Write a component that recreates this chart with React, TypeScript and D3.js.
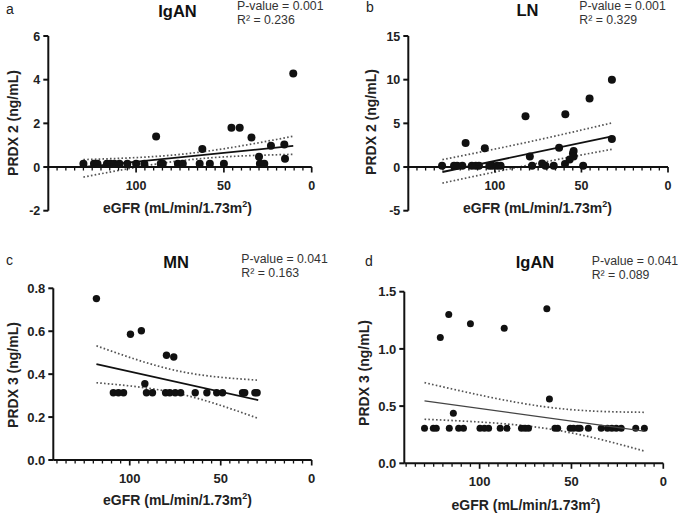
import React from "react";
import * as d3 from "d3";

// ---------- DATA ----------
// Panel a: IgAN, PRDX 2
const aX = [130, 124, 122, 116.6, 114.7, 112.4, 109.5, 105, 100, 95.3, 86, 84.8, 76.2, 73.4, 63.8, 58, 50, 29.5, 27, 88.6, 45.7, 41, 34.3, 62.3, 23.2, 15.6, 15.2, 30, 10.5];
const aY = [0.15, 0.15, 0.15, 0.15, 0.15, 0.15, 0.15, 0.15, 0.15, 0.15, 0.15, 0.15, 0.15, 0.15, 0.15, 0.15, 0.15, 0.15, 0.15, 1.4, 1.8, 1.8, 1.35, 0.83, 0.97, 1.03, 0.38, 0.47, 4.28];
const aFit = [[130.5, 0.0], [10.5, 0.97]];
const aUpper = [[130, 0.34], [70, 0.62], [10.5, 1.41]];
const aLower = [[130, -0.46], [70, 0.33], [10.5, 0.58]];

// Panel b: LN, PRDX 2
const bX = [130.5, 123.6, 121.8, 118.8, 113.3, 111, 109.2, 103.2, 101.5, 98.6, 96.7, 78.5, 70.8, 66, 49, 72.7, 59.5, 56.8, 54.9, 54.5, 54.5, 32.4, 45.3, 82.3, 59.3, 116.9, 105.8, 32.4, 62.9, 79.8];
const bY = [0.15, 0.15, 0.15, 0.15, 0.15, 0.15, 0.15, 0.15, 0.15, 0.15, 0.15, 0.15, 0.15, 0.15, 0.15, 0.39, 0.35, 0.85, 1.54, 1.84, 1.2, 10, 7.85, 5.82, 6.05, 2.76, 2.15, 3.2, 2.2, 1.2];
const bFit = [[130.3, -0.57], [32.4, 3.52]];
const bUpper = [[130.3, 0.85], [81, 2.85], [32.4, 5.05]];
const bLower = [[130.3, -1.84], [81, 0.2], [32.4, 2.03]];

// Panel c: MN, PRDX 3
const cX = [109, 106.2, 103.4, 90.8, 87.5, 80.3, 78, 75, 72, 64, 57.6, 52.2, 49, 38, 36.8, 31.2, 30, 118.3, 99.6, 93.6, 79.8, 75.8, 91.7];
const cY = [0.313, 0.313, 0.313, 0.313, 0.313, 0.313, 0.313, 0.313, 0.313, 0.313, 0.313, 0.313, 0.313, 0.313, 0.313, 0.313, 0.313, 0.752, 0.586, 0.602, 0.488, 0.48, 0.355];
const cFit = [[118.3, 0.447], [29.4, 0.279]];
const cUpper = [[118.3, 0.532], [73.5, 0.415], [29.4, 0.372]];
const cLower = [[118.3, 0.36], [73.5, 0.31], [29.4, 0.194]];

// Panel d: IgAN, PRDX 3
const dX = [130, 125.2, 123.6, 116.5, 111.4, 108.8, 99.8, 97.4, 95.1, 88.8, 85.1, 77.2, 75.2, 73.4, 59, 57.5, 50.7, 48.9, 46.5, 45.3, 40.8, 33.8, 30.4, 28, 25.6, 22.9, 15, 10.3, 121.4, 116.8, 105, 86.6, 63.4, 62, 114.3];
const dY = [0.306, 0.306, 0.306, 0.306, 0.306, 0.306, 0.306, 0.306, 0.306, 0.306, 0.306, 0.306, 0.306, 0.306, 0.306, 0.306, 0.306, 0.306, 0.306, 0.306, 0.306, 0.306, 0.306, 0.306, 0.306, 0.306, 0.306, 0.306, 1.10, 1.30, 1.22, 1.18, 1.35, 0.562, 0.437];
const dFit = [[130, 0.545], [10.5, 0.282]];
const dUpper = [[130, 0.705], [65, 0.495], [10.5, 0.446]];
const dLower = [[130, 0.385], [65, 0.307], [10.5, 0.108]];

const xMajorTicks = [100, 50, 0];
const aYTicks = [-2, 0, 2, 4, 6];
const bYTicks = [-5, 0, 5, 10, 15];
const cYTicks = [0, 0.2, 0.4, 0.6, 0.8];
const dYTicks = [0, 0.5, 1.0, 1.5];

const FONT = "Arial, 'Liberation Sans', Helvetica, sans-serif";

type PanelProps = {
  letter: string;
  title: string;
  pval: string;
  r2: string;
  ylabel: string;
  xs: number[];
  ys: number[];
  fit: number[][];
  upper: number[][];
  lower: number[][];
  xDomain: [number, number];
  xRange: [number, number];
  yDomain: [number, number];
  yRange: [number, number];
  yTicks: number[];
  yFmt: (v: number) => string;
  r: number;
  fitStroke: string;
  fitWidth: number;
  letterPos: [number, number];
  titlePos: [number, number];
  statPos: [number, number];
  ylabelPos: [number, number];
  xlabelPos: [number, number];
  tickFont: number;
};

function Panel(p: PanelProps) {
  const x = d3.scaleLinear().domain(p.xDomain).range(p.xRange);
  const y = d3.scaleLinear().domain(p.yDomain).range(p.yRange);
  const axisY = y(Math.max(0, p.yDomain[0]));
  const minor = d3.range(0, p.xDomain[0] + 0.001, 5).filter((v) => xMajorTicks.indexOf(v) < 0);
  const line = d3.line<number[]>().x((d) => x(d[0])).y((d) => y(d[1]));
  const curve = d3.line<number[]>().x((d) => x(d[0])).y((d) => y(d[1])).curve(d3.curveNatural);
  const ax = p.xRange[0];
  return (
    <g fontFamily={FONT}>
      <text x={p.letterPos[0]} y={p.letterPos[1]} fontSize={14} fill="#222">{p.letter}</text>
      <text x={p.titlePos[0]} y={p.titlePos[1]} fontSize={16.5} fontWeight="bold" textAnchor="middle" fill="#111">{p.title}</text>
      <text x={p.statPos[0]} y={p.statPos[1]} fontSize={12.3} fill="#333">{p.pval}</text>
      <text x={p.statPos[0]} y={p.statPos[1] + 14} fontSize={12.3} fill="#333">{p.r2}</text>

      {/* confidence bands */}
      <path d={curve(p.upper) || ""} fill="none" stroke="#555" strokeWidth={1.7} strokeDasharray="1.6 2.2" />
      <path d={curve(p.lower) || ""} fill="none" stroke="#555" strokeWidth={1.7} strokeDasharray="1.6 2.2" />

      {/* points */}
      {p.xs.map((v, i) => (
        <circle key={i} cx={x(v)} cy={y(p.ys[i])} r={p.r} fill="#111" />
      ))}

      {/* fit line */}
      <path d={line(p.fit) || ""} fill="none" stroke={p.fitStroke} strokeWidth={p.fitWidth} />

      {/* y axis */}
      <line x1={ax} x2={ax} y1={p.yRange[0]} y2={p.yRange[1]} stroke="#111" strokeWidth={2} />
      {p.yTicks.map((t) => (
        <g key={t}>
          <line x1={ax - 5} x2={ax} y1={y(t)} y2={y(t)} stroke="#111" strokeWidth={2} />
          <text x={ax - 8} y={y(t)} dy="0.36em" textAnchor="end" fontSize={p.tickFont} fontWeight="bold" fill="#222">{p.yFmt(t)}</text>
        </g>
      ))}

      {/* x axis */}
      <line x1={p.xRange[0]} x2={p.xRange[1]} y1={axisY} y2={axisY} stroke="#111" strokeWidth={2} />
      {minor.map((t) => (
        <line key={"m" + t} x1={x(t)} x2={x(t)} y1={axisY} y2={axisY + 3.5} stroke="#111" strokeWidth={1.3} />
      ))}
      {xMajorTicks.map((t) => (
        <g key={"M" + t}>
          <line x1={x(t)} x2={x(t)} y1={axisY} y2={axisY + 5.5} stroke="#111" strokeWidth={1.7} />
          <text x={x(t)} y={axisY + 23} textAnchor="middle" fontSize={p.tickFont} fontWeight="bold" fill="#222">{t}</text>
        </g>
      ))}

      {/* axis labels */}
      <text transform={`translate(${p.ylabelPos[0]},${p.ylabelPos[1]}) rotate(-90)`} textAnchor="middle" fontSize={14} fontWeight="bold" fill="#222">{p.ylabel}</text>
      <text x={p.xlabelPos[0]} y={p.xlabelPos[1]} textAnchor="middle" fontSize={14} fontWeight="bold" fill="#222">
        eGFR (mL/min/1.73m<tspan fontSize={9} dy={-6}>2</tspan><tspan dy={6}>)</tspan>
      </text>
    </g>
  );
}

export default function App() {
  const f1 = (v: number) => d3.format(".1f")(v);
  const f0 = (v: number) => String(v);
  return (
    <svg width={685} height={514} style={{ position: "absolute", left: 0, top: 0, background: "#fff" }}>
      <rect width={685} height={514} fill="#fff" />
      <Panel letter="a" title="IgAN" pval="P-value = 0.001" r2="R² = 0.236" ylabel="PRDX 2 (ng/mL)"
        xs={aX} ys={aY} fit={aFit} upper={aUpper} lower={aLower}
        xDomain={[150, 0]} xRange={[48.3, 311.7]} yDomain={[-2, 6]} yRange={[210.7, 36]} yTicks={aYTicks} yFmt={f0}
        r={4} fitStroke="#111" fitWidth={1.8}
        letterPos={[6, 14]} titlePos={[177.5, 17]} statPos={[237, 10]} ylabelPos={[18, 123]} xlabelPos={[177.5, 213]} tickFont={12.5} />
      <Panel letter="b" title="LN" pval="P-value = 0.001" r2="R² = 0.329" ylabel="PRDX 2 (ng/mL)"
        xs={bX} ys={bY} fit={bFit} upper={bUpper} lower={bLower}
        xDomain={[150, 0]} xRange={[408.3, 668]} yDomain={[-5, 15]} yRange={[210.7, 36]} yTicks={bYTicks} yFmt={f0}
        r={4} fitStroke="#111" fitWidth={1.8}
        letterPos={[366, 12]} titlePos={[527.5, 16]} statPos={[579.3, 10]} ylabelPos={[375.5, 122]} xlabelPos={[537.5, 213]} tickFont={12.5} />
      <Panel letter="c" title="MN" pval="P-value = 0.041" r2="R² = 0.163" ylabel="PRDX 3 (ng/mL)"
        xs={cX} ys={cY} fit={cFit} upper={cUpper} lower={cLower}
        xDomain={[142, 0]} xRange={[53.3, 311.7]} yDomain={[0, 0.8]} yRange={[460, 288.3]} yTicks={cYTicks} yFmt={f1}
        r={3.7} fitStroke="#111" fitWidth={1.8}
        letterPos={[6, 265]} titlePos={[176, 268]} statPos={[241.3, 263]} ylabelPos={[18, 375]} xlabelPos={[177.5, 505]} tickFont={13} />
      <Panel letter="d" title="IgAN" pval="P-value = 0.041" r2="R² = 0.089" ylabel="PRDX 3 (ng/mL)"
        xs={dX} ys={dY} fit={dFit} upper={dUpper} lower={dLower}
        xDomain={[141, 0]} xRange={[404.3, 663.3]} yDomain={[0, 1.5]} yRange={[463.3, 291.7]} yTicks={dYTicks} yFmt={f1}
        r={3.5} fitStroke="#444" fitWidth={1.2}
        letterPos={[365, 266]} titlePos={[535, 268]} statPos={[591.7, 265]} ylabelPos={[369, 373]} xlabelPos={[526, 510]} tickFont={13} />
    </svg>
  );
}
